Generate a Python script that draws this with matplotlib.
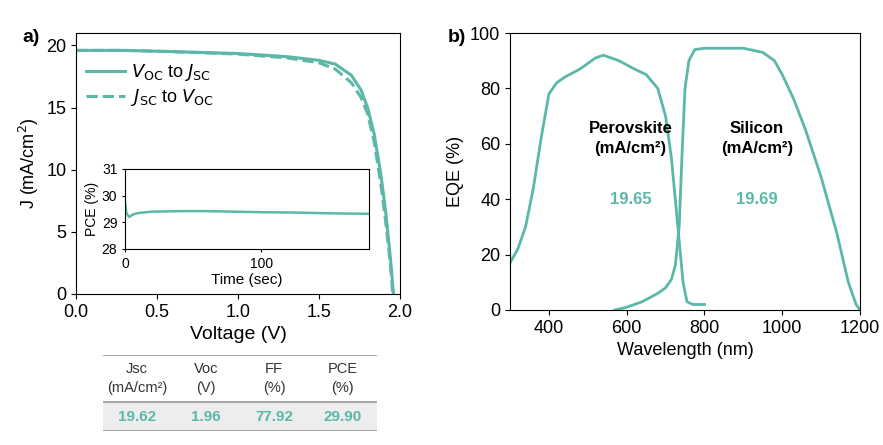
import matplotlib.pyplot as plt
import numpy as np

teal = '#5BB8A8'

# J-V data
v_fwd = [0.0, 0.3, 0.6, 1.0, 1.3, 1.5, 1.6, 1.7, 1.76, 1.8, 1.84, 1.88, 1.91, 1.94, 1.96]
j_fwd = [19.6, 19.6, 19.5, 19.35, 19.1, 18.8, 18.5, 17.6, 16.4, 15.0, 12.9, 9.8, 6.8, 3.0, 0.0]
v_rev = [0.0, 0.3, 0.6, 1.0, 1.3, 1.5, 1.6, 1.7, 1.76, 1.8, 1.84, 1.88, 1.91, 1.94, 1.955]
j_rev = [19.6, 19.6, 19.5, 19.3, 19.0, 18.6, 18.1, 17.0, 15.8, 14.5, 12.3, 9.0, 6.0, 2.5, 0.0]

# stabilised PCE
t_pce = [0, 1, 3, 6, 10, 20, 40, 60, 80, 100, 120, 140, 160, 179]
pce = [29.8, 29.35, 29.2, 29.3, 29.35, 29.4, 29.42, 29.42, 29.4, 29.38, 29.37, 29.35, 29.33, 29.32]

# EQE data
wl_pero = [300, 320, 340, 360, 380, 400, 420, 440, 480, 520, 540, 580, 620, 650, 680, 700, 715, 725, 735, 745, 755, 770, 800]
eqe_pero = [17, 22, 30, 44, 62, 78, 82, 84, 87, 91, 92, 90, 87, 85, 80, 70, 55, 40, 25, 10, 3, 2, 2]
wl_si = [570, 600, 640, 680, 700, 715, 725, 735, 742, 750, 760, 775, 800, 850, 900, 950, 980, 1000, 1030, 1060, 1100, 1140, 1170, 1190, 1200]
eqe_si = [0, 1, 3, 6, 8, 11, 16, 30, 55, 80, 90, 94, 94.5, 94.5, 94.5, 93, 90, 85, 76, 65, 48, 28, 10, 2, 0]

tbl_head = ['Jsc\n(mA/cm²)', 'Voc\n(V)', 'FF\n(%)', 'PCE\n(%)']
tbl_vals = ['19.62', '1.96', '77.92', '29.90']

plt.rcParams['font.family'] = ['Liberation Sans', 'DejaVu Sans']
fig = plt.figure(figsize=(8.83, 4.45), dpi=100)
W, H = 883, 445

def box(l, t, r, b):
    return [l / W, 1 - b / H, (r - l) / W, (b - t) / H]

ax = fig.add_axes(box(76, 33, 400, 294))
ax.plot(v_fwd, j_fwd, color=teal, lw=2.2, label=r'$V_{\rm OC}$ to $J_{\rm SC}$')
ax.plot(v_rev, j_rev, color=teal, lw=2.2, ls='--', label=r'$J_{\rm SC}$ to $V_{\rm OC}$')
ax.set_xlim(0, 2)
ax.set_ylim(0, 21)
ax.set_xticks([0, 0.5, 1.0, 1.5, 2.0])
ax.set_yticks([0, 5, 10, 15, 20])
ax.set_xlabel('Voltage (V)', fontsize=14)
ax.set_ylabel('J (mA/cm$^2$)', fontsize=13)
ax.tick_params(labelsize=13)
ax.legend(loc='upper left', bbox_to_anchor=(-0.02, 0.95), frameon=False, fontsize=13,
          handlelength=2.2, labelspacing=0.2, handletextpad=0.3)
fig.text(22 / W, 1 - 38 / H, 'a)', fontsize=14, fontweight='bold', va='center')

ins = fig.add_axes(box(125, 169, 369, 249))
ins.plot(t_pce, pce, color=teal, lw=1.8)
ins.set_xlim(0, 179)
ins.set_ylim(28, 31)
ins.set_xticks([0, 100])
ins.set_yticks([28, 29, 30, 31])
ins.tick_params(labelsize=10, length=2)
ins.set_xlabel('Time (sec)', fontsize=11, labelpad=2)
ins.set_ylabel('PCE (%)', fontsize=10, labelpad=2)

ax2 = fig.add_axes(box(510, 33, 860, 310))
ax2.plot(wl_pero, eqe_pero, color=teal, lw=2)
ax2.plot(wl_si, eqe_si, color=teal, lw=2)
ax2.set_xlim(300, 1200)
ax2.set_ylim(0, 100)
ax2.set_xticks([400, 600, 800, 1000, 1200])
ax2.set_yticks([0, 20, 40, 60, 80, 100])
ax2.set_xlabel('Wavelength (nm)', fontsize=13)
ax2.set_ylabel('EQE (%)', fontsize=13)
ax2.tick_params(labelsize=13)
ax2.text(610, 62, 'Perovskite\n(mA/cm²)', ha='center', va='center', fontsize=12, fontweight='bold', linespacing=1.4)
ax2.text(610, 40, '19.65', ha='center', va='center', fontsize=12, fontweight='bold', color=teal)
ax2.text(935, 62, 'Silicon\n(mA/cm²)', ha='center', va='center', fontsize=12, fontweight='bold', linespacing=1.4)
ax2.text(935, 40, '19.69', ha='center', va='center', fontsize=12, fontweight='bold', color=teal)
fig.text(448 / W, 1 - 38 / H, 'b)', fontsize=14, fontweight='bold', va='center')

# table
tb = fig.add_axes(box(103, 355, 377, 431))
tb.set_xlim(0, 4)
tb.set_ylim(0, 1)
tb.axis('off')
tb.axhspan(0, 0.38, color='#EDEDED')
for y in [0, 0.38, 1]:
    tb.axhline(y, color='#A8A8A8', lw=1.5)
for i, (h, v) in enumerate(zip(tbl_head, tbl_vals)):
    tb.text(i + 0.5, 0.69, h, ha='center', va='center', fontsize=10.5, color='#333333', linespacing=1.5)
    tb.text(i + 0.5, 0.19, v, ha='center', va='center', fontsize=11, fontweight='bold', color=teal)

fig.savefig('out.png')
